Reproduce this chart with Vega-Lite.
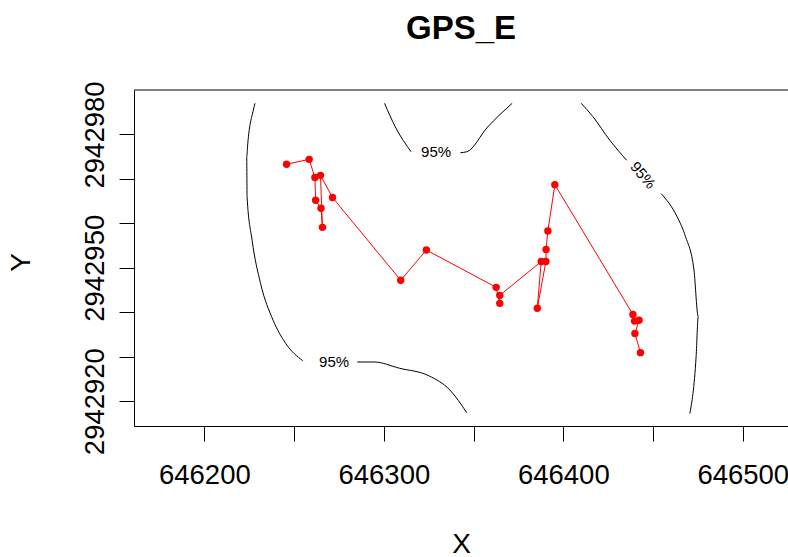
{
  "$schema": "https://vega.github.io/schema/vega-lite/v6.json",
  "autosize": {"type": "none"},
  "padding": {"left": 134, "top": 90, "right": 0, "bottom": 131},
  "width": 654,
  "height": 336,
  "background": "white",
  "config": {
    "view": {"stroke": null},
    "font": "Liberation Sans",
    "axis": {
      "grid": false,
      "domainColor": "black",
      "domainWidth": 1,
      "tickColor": "black",
      "tickWidth": 1,
      "tickSize": 15,
      "labelColor": "black",
      "labelFont": "Liberation Sans",
      "labelFontSize": 27.5,
      "titleColor": "black",
      "titleFont": "Liberation Sans",
      "titleFontSize": 28,
      "titleFontWeight": "normal"
    }
  },
  "title": {
    "text": "GPS_E",
    "font": "Liberation Sans",
    "fontSize": 33,
    "fontWeight": "bold",
    "color": "black",
    "anchor": "middle",
    "baseline": "alphabetic",
    "offset": 9
  },
  "datasets": {
    "track": [
      {"i": 1, "x": 646245.8, "y": 2942973.3},
      {"i": 2, "x": 646258.4, "y": 2942974.4},
      {"i": 3, "x": 646261.6, "y": 2942970.3},
      {"i": 4, "x": 646262.0, "y": 2942965.2},
      {"i": 5, "x": 646265.0, "y": 2942963.4},
      {"i": 6, "x": 646265.8, "y": 2942959.1},
      {"i": 7, "x": 646264.7, "y": 2942970.8},
      {"i": 8, "x": 646271.4, "y": 2942965.8},
      {"i": 9, "x": 646309.4, "y": 2942947.2},
      {"i": 10, "x": 646323.7, "y": 2942954.0},
      {"i": 11, "x": 646362.6, "y": 2942945.6},
      {"i": 12, "x": 646364.6, "y": 2942942.0},
      {"i": 13, "x": 646364.6, "y": 2942943.8},
      {"i": 14, "x": 646387.7, "y": 2942951.4},
      {"i": 15, "x": 646385.5, "y": 2942940.9},
      {"i": 16, "x": 646390.3, "y": 2942951.4},
      {"i": 17, "x": 646390.4, "y": 2942954.1},
      {"i": 18, "x": 646391.4, "y": 2942958.3},
      {"i": 19, "x": 646395.3, "y": 2942968.7},
      {"i": 20, "x": 646438.8, "y": 2942939.5},
      {"i": 21, "x": 646439.7, "y": 2942938.0},
      {"i": 22, "x": 646442.2, "y": 2942938.2},
      {"i": 23, "x": 646439.9, "y": 2942935.2},
      {"i": 24, "x": 646443.0, "y": 2942930.9}
    ],
    "contour": [
      {"seg": "A1", "i": 1, "x": 646228.2, "y": 2942987.0},
      {"seg": "A1", "i": 2, "x": 646227.3, "y": 2942985.5},
      {"seg": "A1", "i": 3, "x": 646224.2, "y": 2942978.0},
      {"seg": "A1", "i": 4, "x": 646223.6, "y": 2942975.0},
      {"seg": "A1", "i": 5, "x": 646223.8, "y": 2942966.0},
      {"seg": "A1", "i": 6, "x": 646226.6, "y": 2942956.2},
      {"seg": "A1", "i": 7, "x": 646231.3, "y": 2942946.5},
      {"seg": "A1", "i": 8, "x": 646238.3, "y": 2942938.2},
      {"seg": "A1", "i": 9, "x": 646245.3, "y": 2942933.0},
      {"seg": "A1", "i": 10, "x": 646254.8, "y": 2942929.1},
      {"seg": "A2", "i": 1, "x": 646285.2, "y": 2942928.8},
      {"seg": "A2", "i": 2, "x": 646294.6, "y": 2942928.8},
      {"seg": "A2", "i": 3, "x": 646308.7, "y": 2942927.4},
      {"seg": "A2", "i": 4, "x": 646325.1, "y": 2942925.7},
      {"seg": "A2", "i": 5, "x": 646336.8, "y": 2942922.5},
      {"seg": "A2", "i": 6, "x": 646346.2, "y": 2942917.4},
      {"seg": "B1", "i": 1, "x": 646300.4, "y": 2942987.0},
      {"seg": "B1", "i": 2, "x": 646306.4, "y": 2942981.7},
      {"seg": "B1", "i": 3, "x": 646315.2, "y": 2942976.1},
      {"seg": "B2", "i": 1, "x": 646342.7, "y": 2942975.9},
      {"seg": "B2", "i": 2, "x": 646346.2, "y": 2942976.1},
      {"seg": "B2", "i": 3, "x": 646357.9, "y": 2942981.7},
      {"seg": "B2", "i": 4, "x": 646371.5, "y": 2942987.0},
      {"seg": "C1", "i": 1, "x": 646410.0, "y": 2942987.0},
      {"seg": "C1", "i": 2, "x": 646416.5, "y": 2942984.0},
      {"seg": "C1", "i": 3, "x": 646425.9, "y": 2942978.7},
      {"seg": "C1", "i": 4, "x": 646435.3, "y": 2942974.2},
      {"seg": "C2", "i": 1, "x": 646454.5, "y": 2942966.7},
      {"seg": "C2", "i": 2, "x": 646463.4, "y": 2942961.5},
      {"seg": "C2", "i": 3, "x": 646468.1, "y": 2942957.0},
      {"seg": "C2", "i": 4, "x": 646472.8, "y": 2942949.5},
      {"seg": "C2", "i": 5, "x": 646475.2, "y": 2942939.0},
      {"seg": "C2", "i": 6, "x": 646474.0, "y": 2942930.0},
      {"seg": "C2", "i": 7, "x": 646470.5, "y": 2942917.2}
    ],
    "flatlabels": [
      {"x": 646272.3, "y": 2942928.9, "label": "95%"},
      {"x": 646329.1, "y": 2942976.1, "label": "95%"}
    ],
    "tiltlabels": [
      {"x": 646444.4, "y": 2942970.8, "label": "95%"}
    ]
  },
  "encoding": {
    "x": {
      "field": "x",
      "type": "quantitative",
      "scale": {"domain": [646160.8, 646525.2], "nice": false, "zero": false},
      "axis": {
        "title": "X",
        "values": [646200, 646250, 646300, 646350, 646400, 646450, 646500],
        "format": "d",
        "labelExpr": "datum.value % 100 == 0 ? datum.label : ''",
        "labelPadding": 20,
        "labelBaseline": "top",
        "labelFlush": false,
        "labelOverlap": false,
        "titleX": 327,
        "titleY": 118,
        "titleBaseline": "middle",
        "titleAlign": "center"
      }
    },
    "y": {
      "field": "y",
      "type": "quantitative",
      "scale": {"domain": [2942914.4, 2942990], "nice": false, "zero": false},
      "axis": {
        "title": "Y",
        "values": [2942920, 2942930, 2942940, 2942950, 2942960, 2942970, 2942980],
        "format": "d",
        "labelExpr": "datum.value % 30 == 10 ? datum.label : ''",
        "labelAngle": -90,
        "labelAlign": "center",
        "labelBaseline": "alphabetic",
        "labelPadding": 16,
        "labelFlush": false,
        "labelOverlap": false,
        "titleAngle": -90,
        "titleX": -113,
        "titleY": 172,
        "titleAlign": "center",
        "titleBaseline": "middle"
      }
    }
  },
  "layer": [
    {
      "data": {"values": [{"y": 2942990}]},
      "mark": {"type": "rule", "color": "black", "strokeWidth": 1},
      "encoding": {"x": {"value": 0}, "x2": {"value": 660}, "y": {"field": "y", "type": "quantitative"}}
    },
    {
      "data": {"name": "contour"},
      "mark": {"type": "line", "color": "black", "strokeWidth": 1, "interpolate": "monotone"},
      "encoding": {
        "detail": {"field": "seg", "type": "nominal"},
        "order": {"field": "i", "type": "quantitative"}
      }
    },
    {
      "data": {"name": "flatlabels"},
      "mark": {"type": "text", "color": "black", "fontSize": 15, "font": "Liberation Sans", "align": "center", "baseline": "middle"},
      "encoding": {"text": {"field": "label", "type": "nominal"}}
    },
    {
      "data": {"name": "tiltlabels"},
      "mark": {"type": "text", "color": "black", "fontSize": 15, "font": "Liberation Sans", "align": "center", "baseline": "middle", "angle": 50},
      "encoding": {"text": {"field": "label", "type": "nominal"}}
    },
    {
      "data": {"name": "track"},
      "mark": {"type": "line", "color": "#FF0000", "strokeWidth": 1},
      "encoding": {"order": {"field": "i", "type": "quantitative"}}
    },
    {
      "data": {"name": "track"},
      "mark": {"type": "circle", "color": "#FF0000", "opacity": 1, "size": 55},
      "encoding": {}
    }
  ]
}
